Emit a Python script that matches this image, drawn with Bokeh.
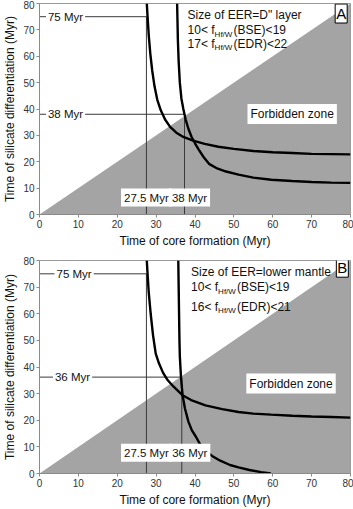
from bokeh.plotting import figure
from bokeh.models import Label, FixedTicker
from bokeh.layouts import column
from bokeh.embed import file_html
from bokeh.resources import INLINE

# ---------------- data ----------------
ticks = [0, 10, 20, 30, 40, 50, 60, 70, 80]
forbidden_x = [0, 80, 80]
forbidden_y = [0, 0, 80]

# Panel A  (EER = D" layer)
a_c1_x = [27.6, 27.8, 28.1, 28.5, 29.0, 29.6, 30.3, 31.2, 32.3, 33.6, 35.2, 37.0, 39.5, 42.5, 46.0, 50.0, 55.0, 60.0, 65.0, 70.0, 75.0, 80.0]
a_c1_y = [80, 75, 68, 61, 54.5, 48.5, 43.5, 39.5, 36.0, 33.2, 31.0, 29.4, 28.0, 26.8, 25.7, 24.9, 24.1, 23.6, 23.3, 23.0, 22.9, 22.8]
a_c2_x = [35.4, 35.5, 35.6, 35.8, 36.1, 36.5, 37.0, 37.6, 38.3, 39.1, 40.0, 41.0, 42.2, 43.6, 45.5, 48.0, 51.2, 55.0, 59.6, 65.0, 70.0, 75.0, 80.0]
a_c2_y = [80, 73, 66, 58, 50, 44, 40, 36, 32.5, 29.5, 27.0, 24.5, 21.8, 19.2, 17.6, 16.3, 15.1, 14.0, 13.2, 12.7, 12.3, 12.1, 12.0]
a_core = [27.5, 37.3]
a_diff = [75, 38]
a_core_labels = ["27.5 Myr", "38 Myr"]
a_diff_labels = ["75 Myr", "38 Myr"]
a_title = 'Size of EER=D" layer'
a_bse = ["10< f", "(BSE)<19"]
a_edr = ["17< f", "(EDR)<22"]
a_tag = "A"

# Panel B  (EER = lower mantle)
b_c1_x = [27.6, 27.8, 28.1, 28.6, 29.2, 29.9, 30.7, 31.8, 33.0, 34.5, 36.7, 39.0, 42.7, 47.0, 51.2, 55.0, 59.6, 65.0, 70.0, 75.0, 80.0]
b_c1_y = [80, 75, 68, 60, 52, 45, 41.5, 37.8, 35.0, 32.6, 29.5, 27.6, 25.6, 24.2, 23.1, 22.5, 22.1, 21.7, 21.4, 21.2, 21.0]
b_c2_x = [35.7, 35.8, 35.9, 36.0, 36.1, 36.25, 36.4, 36.8, 37.4, 38.3, 39.2, 40.2, 41.5, 43.0, 44.4, 46.5, 49.0, 51.2, 54.0, 57.0, 59.5]
b_c2_y = [80, 70, 60, 50, 44, 40, 36, 29.5, 24.5, 19.5, 16.2, 13.9, 10.5, 8.2, 6.6, 4.8, 3.2, 2.3, 1.3, 0.5, 0]
b_core = [27.5, 36.6]
b_diff = [75, 36.2]
b_core_labels = ["27.5 Myr", "36 Myr"]
b_diff_labels = ["75 Myr", "36 Myr"]
b_title = "Size of EER=lower mantle"
b_bse = ["10< f", "(BSE)<19"]
b_edr = ["16< f", "(EDR)<21"]
b_tag = "B"

FONT = "Liberation Sans"
GRAY = "#a4a4a4"


def make_panel(height, top, bottom, c1x, c1y, c2x, c2y, core, diff,
               core_labels, diff_labels, title, bse, edr, tag, cfg):
    p = figure(width=353, height=height, x_range=(0, 80), y_range=(0, 80),
               output_backend="svg", toolbar_location=None,
               min_border_left=35, min_border_right=3,
               min_border_top=top, min_border_bottom=bottom)
    p.xgrid.grid_line_color = None
    p.ygrid.grid_line_color = None
    p.outline_line_color = "#9a9a9a"
    for ax in (p.xaxis[0], p.yaxis[0]):
        ax.ticker = FixedTicker(ticks=ticks)
        ax.minor_tick_line_color = None
        ax.major_tick_in = 0
        ax.major_tick_out = 3
        ax.axis_line_color = "#8a8a8a"
        ax.major_tick_line_color = "#8a8a8a"
        ax.major_label_text_font = FONT
        ax.major_label_text_font_size = "10px"
        ax.major_label_text_color = "#333333"
        ax.major_label_standoff = 2
        ax.axis_label_text_font = FONT
        ax.axis_label_text_font_size = "12px"
        ax.axis_label_text_font_style = "normal"
        ax.axis_label_text_color = "#111111"
        ax.axis_label_standoff = 3
    p.xaxis.axis_label = "Time of core formation (Myr)"
    p.yaxis.axis_label = "Time of silicate differentiation (Myr)"

    # forbidden zone
    p.patch(forbidden_x, forbidden_y, fill_color=GRAY, line_color=None)

    # reference lines
    zeros = [0] * len(core)
    p.segment(x0=zeros, y0=diff, x1=core, y1=diff, line_color="#3a3a3a", line_width=1)
    p.segment(x0=core, y0=zeros, x1=core, y1=diff, line_color="#3a3a3a", line_width=1)

    # curves
    p.line(c1x, c1y, line_color="black", line_width=2.4)
    p.line(c2x, c2y, line_color="black", line_width=2.4)

    lab = dict(text_font=FONT, text_font_size="12px", text_color="#111111",
               text_baseline="middle")
    lab_s = dict(lab, text_font_size="11.5px")
    # left labels for silicate differentiation times
    for d, t, lx in zip(diff, diff_labels, cfg["diff_lx"]):
        p.add_layout(Label(x=lx, y=d, text=t, text_align="center",
                           background_fill_color="white", padding=2, **lab_s))
    # bottom labels for core formation times
    for c, t, off in zip(core, core_labels, cfg["core_off"]):
        p.add_layout(Label(x=c, y=cfg["core_ly"], x_offset=off, text=t,
                           text_align="center", background_fill_color="white",
                           padding=3, **lab_s))
    # forbidden zone label
    p.add_layout(Label(x=cfg["fz"][0], y=cfg["fz"][1], text="Forbidden zone",
                       text_align="center", background_fill_color="white",
                       padding=3, **lab))
    # panel tag
    p.add_layout(Label(x=cfg["tag"][0], y=cfg["tag"][1], text=tag, text_align="center",
                       text_font=FONT, text_font_size="15px", text_color="black",
                       text_baseline="middle", background_fill_color="white",
                       border_line_color="black", border_line_width=1, padding=1))
    # text block
    tx = cfg["tx"]
    p.add_layout(Label(x=tx, y=cfg["ty"][0], text=title, text_align="left", **lab))
    for yy, parts in zip(cfg["ty"][1:], (bse, edr)):
        p.add_layout(Label(x=tx, y=yy, text=parts[0], text_align="left", **lab))
        p.add_layout(Label(x=tx, y=yy, x_offset=27, y_offset=-4, text="Hf/W",
                           text_align="left", text_font=FONT, text_font_size="8px",
                           text_color="#111111", text_baseline="middle"))
        p.add_layout(Label(x=tx, y=yy, x_offset=46, text=parts[1], text_align="left", **lab))
    return p


cfg_a = dict(diff_lx=[6.7, 6.7], core_off=[0, 5], core_ly=6.4, fz=(65.0, 38.1),
             tag=(77.6, 76.2), tx=38.1, ty=[75.5, 69.9, 64.8])
cfg_b = dict(diff_lx=[8.9, 8.5], core_off=[0, 8], core_ly=7.8, fz=(64.7, 33.8),
             tag=(77.9, 77.3), tx=39.0, ty=[75.5, 70.0, 62.6])

pa = make_panel(250, 3, 33, a_c1_x, a_c1_y, a_c2_x, a_c2_y, a_core, a_diff,
                a_core_labels, a_diff_labels, a_title, a_bse, a_edr, a_tag, cfg_a)
pb = make_panel(259, 10, 31, b_c1_x, b_c1_y, b_c2_x, b_c2_y, b_core, b_diff,
                b_core_labels, b_diff_labels, b_title, b_bse, b_edr, b_tag, cfg_b)

layout = column(pa, pb)
open("out.html", "w").write(file_html(layout, INLINE))
